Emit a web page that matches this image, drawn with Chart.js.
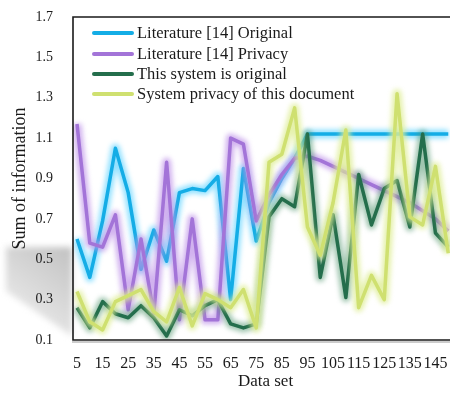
<!DOCTYPE html>
<html>
<head>
<meta charset="utf-8">
<script src="https://cdn.jsdelivr.net/npm/chart.js@4.4.0/dist/chart.umd.min.js"></script>
<style>
html,body{margin:0;padding:0;background:#fff;overflow:hidden;width:450px;height:393px;}
canvas{display:block;}
</style>
</head>
<body>
<canvas id="c" width="460" height="393" style="width:460px;height:393px"></canvas>
<script>
const categories = [5,10,15,20,25,30,35,40,45,50,55,60,65,70,75,80,85,90,95,100,105,110,115,120,125,130,135,140,145,150];
const litOriginal = [0.60,0.41,0.69,1.05,0.83,0.45,0.645,0.49,0.83,0.85,0.84,0.91,0.30,0.95,0.59,0.78,0.90,1.00,1.12,1.12,1.12,1.12,1.12,1.12,1.12,1.12,1.12,1.12,1.12,1.12];
const litPrivacy = [1.17,0.58,0.56,0.72,0.25,0.60,0.23,0.98,0.20,0.70,0.20,0.20,1.10,1.07,0.69,0.82,0.92,1.00,1.01,0.99,0.96,0.93,0.90,0.87,0.84,0.81,0.78,0.74,0.70,0.64];
const sysOriginal = [0.26,0.16,0.29,0.23,0.21,0.27,0.21,0.12,0.25,0.22,0.27,0.30,0.18,0.16,0.18,0.71,0.80,0.76,1.12,0.41,0.72,0.31,0.92,0.67,0.85,0.89,0.66,1.12,0.63,0.56];
const sysPrivacy = [0.34,0.19,0.15,0.29,0.32,0.35,0.24,0.19,0.36,0.17,0.33,0.30,0.26,0.35,0.16,0.98,1.02,1.25,0.66,0.52,0.78,1.14,0.26,0.42,0.30,1.32,0.71,0.67,0.96,0.53];
const seriesNames = ["Literature [14] Original","Literature [14] Privacy","This system is original","System privacy of this document"];
const xTickLabels = [5,15,25,35,45,55,65,75,85,95,105,115,125,135,145];
const yTickLabels = [0.1,0.3,0.5,0.7,0.9,1.1,1.3,1.5,1.7];

const serif = "'Liberation Serif','Times New Roman',serif";
const colors = ['#14ade6','#a374d8','#246e4c','#cfe070'];
const glows = ['rgba(110,215,255,0.75)','rgba(190,145,232,0.7)','rgba(80,150,110,0.55)','rgba(222,238,150,0.8)'];
const orders = [3,2,1,0];

function pts(vals){ return vals.map((v,i)=>({x:categories[i], y:v})); }
const allSeries = [litOriginal, litPrivacy, sysOriginal, sysPrivacy];

const glowPlugin = {
  id:'glow',
  beforeDatasetDraw(chart,args){
    const ctx = chart.ctx, a = chart.chartArea;
    const el = args.meta.dataset;
    if (!el) return;
    const saved = el.options;
    ctx.save();
    ctx.beginPath();
    ctx.rect(a.left, a.top, a.right - a.left, a.bottom - a.top);
    ctx.clip();
    ctx.filter = 'blur(2.5px)';
    el.options = Object.assign({}, saved, {borderWidth: 9, borderColor: glows[args.index]});
    el.draw(ctx, a);
    el.options = saved;
    ctx.restore();
  }
};

const decoPlugin = {
  id:'deco',
  beforeDraw(chart){
    const ctx = chart.ctx;
    ctx.save();
    ctx.filter = 'blur(3px)';
    const g = ctx.createLinearGradient(73,250,20,320);
    g.addColorStop(0,'#c2c2c2');
    g.addColorStop(1,'#eaeaea');
    ctx.fillStyle = g;
    ctx.beginPath();
    ctx.moveTo(6,247); ctx.lineTo(72,247); ctx.lineTo(72,336); ctx.lineTo(6,291); ctx.closePath();
    ctx.fill();
    ctx.restore();
  },
  afterDraw(chart){
    const ctx = chart.ctx, a = chart.chartArea;
    ctx.save();
    ctx.strokeStyle = '#1a1a1a';
    ctx.lineWidth = 1.6;
    ctx.beginPath();
    ctx.moveTo(a.right+5, a.top); ctx.lineTo(a.left, a.top); ctx.lineTo(a.left, a.bottom); ctx.lineTo(a.right+5, a.bottom);
    ctx.stroke();
    ctx.strokeStyle = '#9a9a9a';
    ctx.lineWidth = 1.2;
    ctx.beginPath();
    ctx.moveTo(a.left-1, a.bottom+2); ctx.lineTo(a.right+5, a.bottom+2);
    ctx.stroke();
    // legend
    ctx.font = '16.5px ' + serif;
    ctx.textBaseline = 'middle';
    ctx.textAlign = 'left';
    const rows = [33,54,74,94];
    for (let i=0;i<4;i++){
      ctx.strokeStyle = colors[i];
      ctx.lineWidth = 4;
      ctx.lineCap = 'round';
      ctx.beginPath(); ctx.moveTo(94, rows[i]); ctx.lineTo(132, rows[i]); ctx.stroke();
      ctx.fillStyle = '#1a1a1a';
      ctx.fillText(seriesNames[i], 137, rows[i]+1);
    }
    ctx.restore();
  }
};

new Chart(document.getElementById('c'), {
  type:'line',
  data:{
    datasets: allSeries.map((s,i)=>({
      label: seriesNames[i],
      data: pts(s),
      borderColor: colors[i],
      backgroundColor: colors[i],
      borderWidth: 3.5,
      pointRadius: 0,
      tension: 0,
      fill: false,
      order: orders[i],
      borderJoinStyle: 'round'
    }))
  },
  options:{
    responsive:false,
    animation:false,
    devicePixelRatio:1,
    layout:{padding:{top:17,right:2,left:0,bottom:0}},
    plugins:{legend:{display:false},tooltip:{enabled:false}},
    scales:{
      x:{
        type:'linear',
        min:3.44, max:153.8,
        afterBuildTicks(scale){ scale.ticks = xTickLabels.map(v=>({value:v})); },
        afterFit(scale){ scale.height = 53; scale.paddingLeft = 0; scale.paddingRight = 0; },
        grid:{display:false, drawTicks:false},
        border:{display:false},
        ticks:{autoSkip:false, maxRotation:0, padding:14, color:'#1a1a1a', font:{family:serif,size:16}, callback:v=>String(v)},
        title:{display:true, text:'Data set', color:'#1a1a1a', font:{family:serif,size:17}, padding:{top:0,bottom:1}}
      },
      y:{
        min:0.1, max:1.7,
        afterBuildTicks(scale){ scale.ticks = yTickLabels.map(v=>({value:v})); },
        afterFit(scale){ scale.width = 73; scale.paddingTop = 0; scale.paddingBottom = 0; },
        grid:{display:false, drawTicks:false},
        border:{display:false},
        ticks:{padding:20, color:'#1a1a1a', font:{family:serif,size:14}, callback:v=>Number(v).toFixed(1)},
        title:{display:true, text:'Sum of information', color:'#1a1a1a', font:{family:serif,size:18}, padding:{top:9,bottom:0}}
      }
    }
  },
  plugins:[glowPlugin, decoPlugin]
});
</script>
</body>
</html>
